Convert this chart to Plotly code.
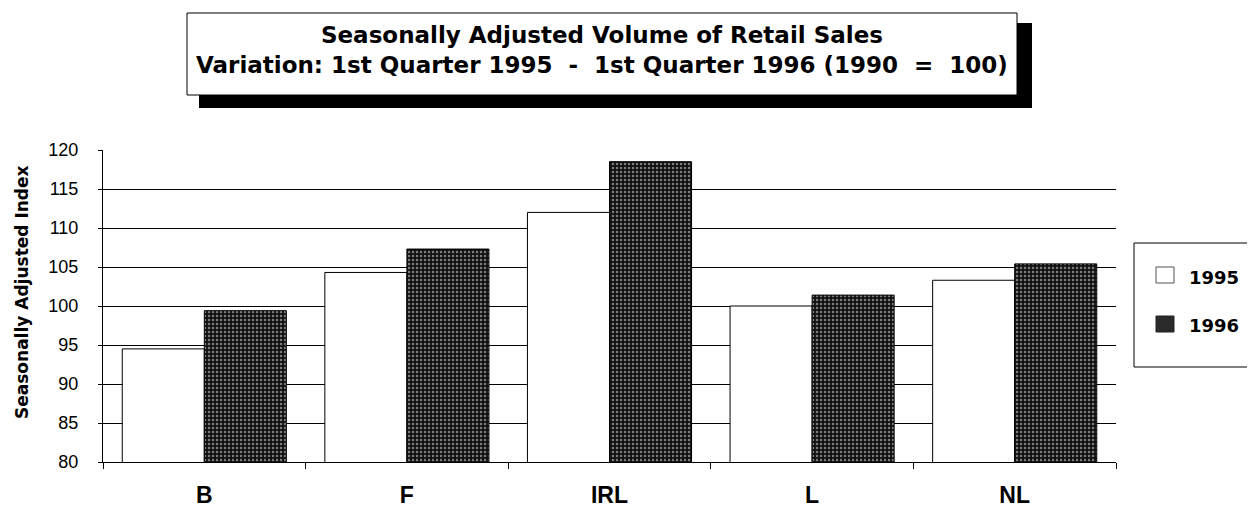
import plotly.graph_objects as go

categories = ["B", "F", "IRL", "L", "NL"]
values_1995 = [94.5, 104.3, 112.0, 100.0, 103.3]
values_1996 = [99.4, 107.3, 118.5, 101.4, 105.4]
series_names = ["1995", "1996"]
y_ticks = [80, 85, 90, 95, 100, 105, 110, 115, 120]
title_lines = [
    "Seasonally Adjusted Volume of Retail Sales",
    "Variation: 1st Quarter 1995 \u00a0-\u00a0 1st Quarter 1996 (1990 \u00a0=\u00a0 100)",
]
y_title = "Seasonally Adjusted Index"

# page coordinates (the html body adds an 8px offset)
OFF = 8
W, H = 1255, 507
L, R, T, B = 103, 1116, 150, 462
FW, FH = W - OFF, H - OFF


def px(x):
    return (x - L) / (R - L)


def py(y):
    return (B - y) / (B - T)


fig = go.Figure()
fig.add_trace(go.Bar(
    x=categories, y=values_1995, name=series_names[0],
    marker=dict(color="white", line=dict(color="black", width=1)),
    showlegend=False,
))
fig.add_trace(go.Bar(
    x=categories, y=values_1996, name=series_names[1],
    marker=dict(color="#111111", line=dict(color="black", width=1),
                pattern=dict(shape=".", fgcolor="#e8e8e8", bgcolor="#111111",
                             size=4, solidity=0.3)),
    showlegend=False,
))

shapes = []
# title box with drop shadow
shapes.append(dict(type="rect", xref="paper", yref="paper",
                   x0=px(199), x1=px(1032), y0=py(23), y1=py(108),
                   fillcolor="black", line=dict(width=0), layer="above"))
shapes.append(dict(type="rect", xref="paper", yref="paper",
                   x0=px(187), x1=px(1017), y0=py(13), y1=py(95),
                   fillcolor="white", line=dict(color="black", width=1), layer="above"))
# legend box
shapes.append(dict(type="rect", xref="paper", yref="paper",
                   x0=px(1134), x1=px(1262), y0=py(243), y1=py(367),
                   fillcolor="white", line=dict(color="black", width=1), layer="above"))
# legend swatches
shapes.append(dict(type="rect", xref="paper", yref="paper",
                   x0=px(1156), x1=px(1174), y0=py(267), y1=py(283),
                   fillcolor="white", line=dict(color="#555", width=1), layer="above"))
shapes.append(dict(type="rect", xref="paper", yref="paper",
                   x0=px(1156), x1=px(1174), y0=py(316), y1=py(332),
                   fillcolor="#2a2a2a", line=dict(color="#222", width=1), layer="above"))

annotations = [
    dict(xref="paper", yref="paper", x=px(602), y=py(50), xanchor="center", yanchor="middle",
         text="<br>".join(title_lines), showarrow=False, align="center",
         font=dict(family="DejaVu Sans", size=23, color="black", weight="bold")),
    dict(xref="paper", yref="paper", x=px(1187), y=py(277), xanchor="left", yanchor="middle",
         text=series_names[0], showarrow=False,
         font=dict(family="DejaVu Sans", size=18, color="black", weight="bold")),
    dict(xref="paper", yref="paper", x=px(1187), y=py(325), xanchor="left", yanchor="middle",
         text=series_names[1], showarrow=False,
         font=dict(family="DejaVu Sans", size=18, color="black", weight="bold")),
    dict(xref="paper", yref="paper", x=px(22), y=py(292), xanchor="center", yanchor="middle",
         text=y_title, showarrow=False, textangle=-90,
         font=dict(family="DejaVu Sans", size=17, color="black", weight="bold")),
]

fig.update_layout(
    width=FW, height=FH,
    margin=dict(l=L - OFF, r=FW - (R - OFF), t=T - OFF, b=FH - (B - OFF), pad=0,
                autoexpand=False),
    paper_bgcolor="white", plot_bgcolor="white",
    barmode="group", bargap=0.19, bargroupgap=0,
    shapes=shapes, annotations=annotations,
    showlegend=False,
)
fig.update_xaxes(
    showline=True, linecolor="black", linewidth=1,
    ticks="outside", tickson="boundaries", ticklen=6, tickcolor="black",
    tickfont=dict(family="Liberation Sans", size=23, color="black", weight="bold"),
    ticklabelstandoff=12, showgrid=False, automargin=False,
)
fig.update_yaxes(
    range=[80, 120], tickvals=y_ticks,
    showline=True, linecolor="black", linewidth=1,
    ticks="outside", ticklen=4, tickcolor="black",
    tickfont=dict(family="Liberation Sans", size=18, color="black"),
    ticklabelstandoff=16,
    showgrid=True, gridcolor="black", gridwidth=1, zeroline=False, automargin=False,
)

fig.write_html("out.html")
